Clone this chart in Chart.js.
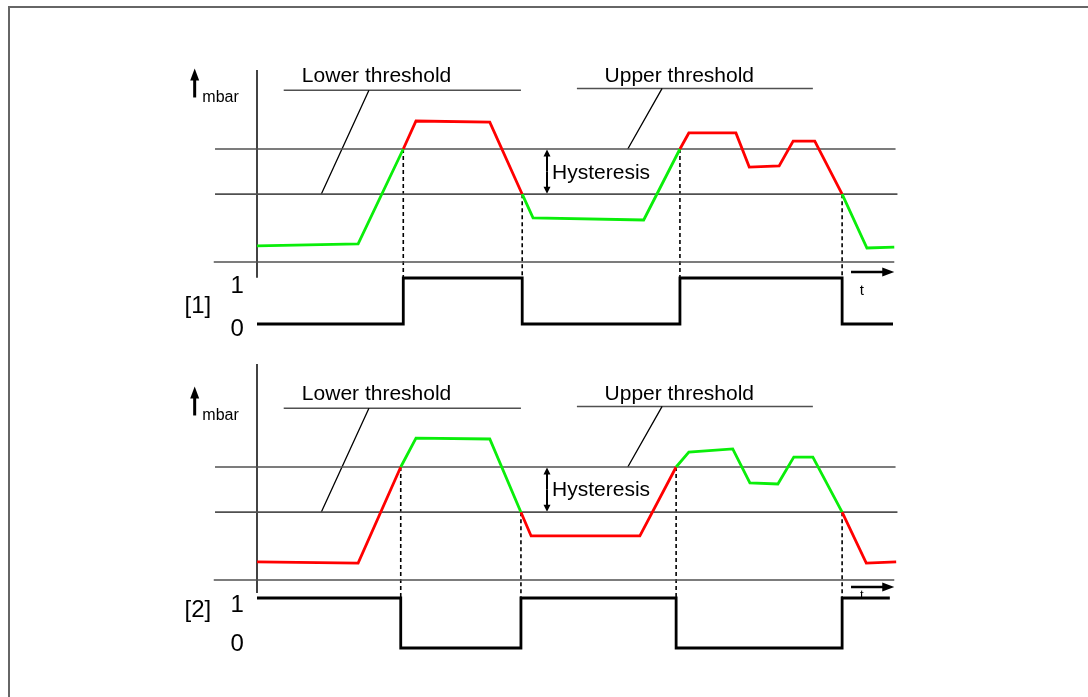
<!DOCTYPE html>
<html>
<head>
<meta charset="utf-8">
<title>Hysteresis</title>
<script src="https://cdn.jsdelivr.net/npm/chart.js@4.4.1/dist/chart.umd.min.js"></script>
<style>
  html, body { margin: 0; padding: 0; background: #fff; }
  #wrap { position: relative; width: 1088px; height: 697px; overflow: hidden; }
  #frame { position: absolute; left: 8px; top: 6px; width: 1100px; height: 720px;
           border-top: 2px solid #666; border-left: 2px solid #666; }
  canvas { position: absolute; left: 0; top: 0; }
</style>
</head>
<body>
<div id="wrap">
  <div id="frame"></div>
  <canvas id="myChart" width="1088" height="697"></canvas>
</div>
<script>
// Schwellen in mbar
const lowerThreshold = 30;
const upperThreshold = 50;

// Diagramm [1]: Druckverlauf und Schaltausgang
const time1 = [0, 15.9, 23.0, 25.0, 36.6, 41.7, 43.4, 60.8, 66.5, 67.9, 75.3, 77.4, 82.1, 84.3, 87.7, 92.0, 95.9, 100.2];
const pressure1 = [7.1, 8.0, 50, 62.4, 61.9, 30, 19.5, 18.6, 50, 57.1, 57.1, 42.0, 42.5, 53.5, 53.5, 30, 6.2, 6.6];
const switchTime1 = [0, 23.0, 41.7, 66.5, 92.0, 100.0];
const switchState1 = [0, 1, 0, 1, 0, 0];

// Diagramm [2]: gleicher Verlauf, invertierter Ausgang
const time2 = [0, 15.9, 22.6, 25.0, 36.6, 41.5, 43.1, 60.2, 65.9, 67.9, 74.8, 77.5, 81.9, 84.4, 87.4, 92.0, 95.8, 100.5];
const pressure2 = [8.0, 7.5, 50, 62.8, 62.4, 30, 19.5, 19.5, 50, 56.6, 58.0, 43.0, 42.5, 54.4, 54.4, 30, 7.5, 8.0];
const switchTime2 = [0, 22.6, 41.5, 65.9, 92.0, 99.5];
const switchState2 = [1, 0, 1, 0, 1, 1];

const stateLabels = ['0', '1'];

const RED = '#ff0000';
const GREEN = '#0aee0a';
const LINE = '#505050';
const FONT = '"Liberation Sans", Arial, sans-serif';

const W = 1088, H = 697;

// Achsenbereich so wählen, dass der Nullpunkt an einer bestimmten Stelle liegt
function xRange(zeroPx, k) { return { min: -zeroPx / k, max: (W - zeroPx) / k }; }
function yRange(zeroPx, k) { return { min: (zeroPx - H) / k, max: zeroPx / k }; }

function stateAt(times, states, t) {
    let s = states[0];
    for (let i = 0; i < times.length; i++) {
        if (times[i] <= t) s = states[i];
    }
    return s;
}

const panels = [
    { pAxis: 'yP1', dAxis: 'yD1', time: time1, pressure: pressure1, sw: switchTime1, st: switchState1,
      tag: '[1]', axisTop: 85, axisBottom: -7, textY: { one: 293, tag: 313, zero: 336, t: 295 }, hystY: 36.7, tY: 272 },
    { pAxis: 'yP2', dAxis: 'yD2', time: time2, pressure: pressure2, sw: switchTime2, st: switchState2,
      tag: '[2]', axisTop: 95.6, axisBottom: -5.8, textY: { one: 612, tag: 617, zero: 651, t: 599 }, hystY: 37.2, tY: 587 }
];

function pts(xs, ys) { return xs.map((x, i) => ({ x: x, y: ys[i] })); }

const datasets = [];
panels.forEach(p => {
    datasets.push({
        data: pts(p.time, p.pressure),
        yAxisID: p.pAxis,
        showLine: true,
        pointRadius: 0,
        borderWidth: 2.8,
        borderColor: GREEN,
        segment: {
            borderColor: ctx => {
                const mid = (p.time[ctx.p0DataIndex] + p.time[ctx.p1DataIndex]) / 2;
                return stateAt(p.sw, p.st, mid) ? RED : GREEN;
            }
        }
    });
    datasets.push({
        data: pts(p.sw, p.st),
        yAxisID: p.dAxis,
        showLine: true,
        stepped: true,
        pointRadius: 0,
        borderWidth: 2.8,
        borderColor: '#000',
        borderJoinStyle: 'miter'
    });
    [upperThreshold, lowerThreshold, 0].forEach(level => {
        const from = level === 0 ? -6.8 : -6.6;
        const to = level === 0 ? 100.2 : (level === lowerThreshold ? 100.7 : 100.4);
        datasets.push({
            data: [{ x: from, y: level }, { x: to, y: level }],
            yAxisID: p.pAxis,
            showLine: true,
            pointRadius: 0,
            borderWidth: 1.7,
            borderColor: LINE
        });
    });
});

function arrow(c, x1, y1, x2, y2, len, half) {
    const a = Math.atan2(y2 - y1, x2 - x1);
    c.beginPath();
    c.moveTo(x1, y1);
    c.lineTo(x2 - Math.cos(a) * len * 0.8, y2 - Math.sin(a) * len * 0.8);
    c.stroke();
    c.beginPath();
    c.moveTo(x2, y2);
    c.lineTo(x2 - Math.cos(a) * len - Math.sin(a) * half, y2 - Math.sin(a) * len + Math.cos(a) * half);
    c.lineTo(x2 - Math.cos(a) * len + Math.sin(a) * half, y2 - Math.sin(a) * len - Math.cos(a) * half);
    c.closePath();
    c.fill();
}

const sketch = {
    id: 'sketch',
    beforeDatasetsDraw(chart) {
        const c = chart.ctx;
        const sx = chart.scales.x;
        c.save();
        panels.forEach(p => {
            const sp = chart.scales[p.pAxis], sd = chart.scales[p.dAxis];
            const X = v => sx.getPixelForValue(v);
            const P = v => sp.getPixelForValue(v);
            const D = v => sd.getPixelForValue(v);

            c.strokeStyle = '#000';
            c.fillStyle = '#000';

            // Senkrechte Achse
            c.lineWidth = 1.7;
            c.strokeStyle = '#222';
            c.beginPath();
            c.moveTo(X(0), P(p.axisTop));
            c.lineTo(X(0), P(p.axisBottom));
            c.stroke();

            // Beschriftungslinien
            c.lineWidth = 1.6;
            c.strokeStyle = LINE;
            c.beginPath();
            c.moveTo(X(4.2), P(76)); c.lineTo(X(41.5), P(76));
            c.moveTo(X(50.3), P(76.8)); c.lineTo(X(87.4), P(76.8));
            c.stroke();
            c.strokeStyle = '#000';
            c.lineWidth = 1.3;
            c.beginPath();
            c.moveTo(X(17.6), P(76)); c.lineTo(X(10.1), P(lowerThreshold));
            c.moveTo(X(63.7), P(76.8)); c.lineTo(X(58.3), P(upperThreshold));
            c.stroke();

            // gestrichelte Schaltlinien
            c.lineWidth = 1.6;
            c.setLineDash([4, 3]);
            c.beginPath();
            p.sw.slice(1, -1).forEach(t => {
                const i = p.time.indexOf(t);
                c.moveTo(X(t), P(p.pressure[i]));
                c.lineTo(X(t), D(1));
            });
            c.stroke();
            c.setLineDash([]);

            // Hysterese-Pfeil
            c.lineWidth = 2;
            const hx = X(45.6);
            arrow(c, hx, (P(upperThreshold) + P(lowerThreshold)) / 2, hx, P(upperThreshold) + 0.5, 7, 3.5);
            arrow(c, hx, (P(upperThreshold) + P(lowerThreshold)) / 2, hx, P(lowerThreshold) - 0.5, 7, 3.5);

            // mbar-Pfeil
            c.lineWidth = 3;
            arrow(c, X(-9.8), P(72.8), X(-9.8), P(85.6), 12, 4.5);

            // t-Pfeil
            c.lineWidth = 2.6;
            arrow(c, X(93.4), p.tY, X(100.2), p.tY, 12, 4.5);

            // Texte
            c.textAlign = 'center';
            c.textBaseline = 'alphabetic';
            c.font = '21px ' + FONT;
            c.fillText('Lower threshold', X(18.8), P(79.6));
            c.fillText('Upper threshold', X(66.4), P(79.6));
            c.textAlign = 'left';
            c.fillText('Hysteresis', X(46.4), P(p.hystY));
            c.font = '16px ' + FONT;
            c.fillText('mbar', X(-8.6), P(71));

            c.textAlign = 'center';
            c.font = '24px ' + FONT;
            c.fillText(stateLabels[1], X(-3.1), p.textY.one);
            c.fillText(stateLabels[0], X(-3.1), p.textY.zero);
            c.fillText(p.tag, X(-9.3), p.textY.tag);
            c.font = (p.tag === '[1]' ? 15 : 13) + 'px ' + FONT;
            c.fillText('t', X(95.1), p.textY.t);
        });
        c.restore();
    }
};

const ctx = document.getElementById('myChart').getContext('2d');

const chart = new Chart(ctx, {
    type: 'scatter',
    data: { datasets: datasets },
    options: {
        responsive: false,
        animation: false,
        events: [],
        layout: { padding: 0 },
        plugins: { legend: { display: false }, tooltip: { enabled: false } },
        scales: {
            x: Object.assign({ type: 'linear', display: false }, xRange(257, 6.36)),
            yP1: Object.assign({ type: 'linear', display: false }, yRange(262, 2.26)),
            yD1: Object.assign({ type: 'linear', display: false }, yRange(324, 46)),
            yP2: Object.assign({ type: 'linear', display: false }, yRange(580, 2.26)),
            yD2: Object.assign({ type: 'linear', display: false }, yRange(648, 50))
        }
    },
    plugins: [sketch]
});
</script>
</body>
</html>
